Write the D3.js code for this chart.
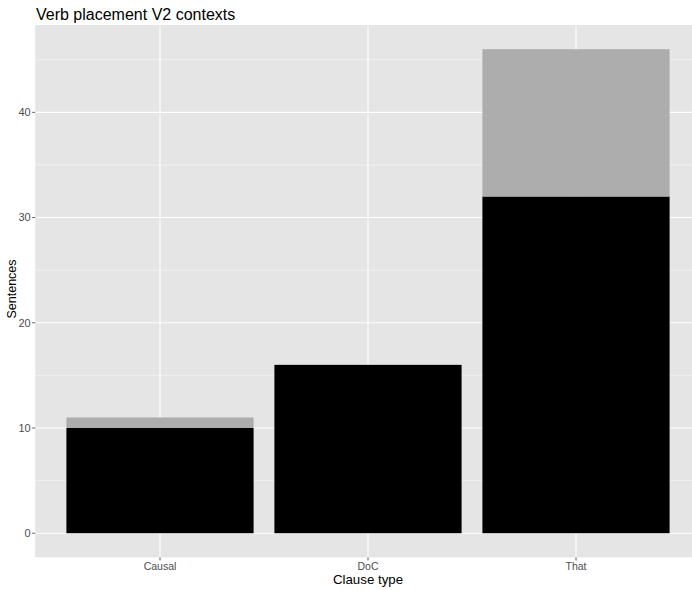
<!DOCTYPE html>
<html><head><meta charset="utf-8">
<script src="https://cdn.jsdelivr.net/npm/d3@7"></script>
<style>body{margin:0;background:#fff}svg{display:block}</style>
</head><body><div id="c"></div>
<script>
const categories = ["Causal", "DoC", "That"];
const seriesKeys = ["V2", "nonV2"];
const valuesV2 = [10, 16, 32];
const valuesOther = [1, 0, 14];
const yTicks = [0, 10, 20, 30, 40];
const yMinor = [5, 15, 25, 35, 45];
const title = "Verb placement V2 contexts";
const xTitle = "Clause type";
const yTitle = "Sentences";

(function () {
const W = 692, H = 590;
const pL = 35.2, pT = 25, pB = 557.4, pR = 700.8;
const svg = d3.select("#c").append("svg").attr("width", W).attr("height", H);

const maxTotal = d3.max(categories, (c, i) => valuesV2[i] + valuesOther[i]);
const pad = maxTotal * 0.05;
const y = d3.scaleLinear().domain([-pad, maxTotal + pad]).range([pB, pT]);
const xi = d3.scaleLinear().domain([0.4, categories.length + 0.6]).range([pL, pR]);
const bw = (xi(2) - xi(1)) * 0.9;
const font = "Liberation Sans, Arial, sans-serif";

svg.append("rect").attr("x", pL).attr("y", pT).attr("width", pR - pL).attr("height", pB - pT).attr("fill", "#e5e5e5");
const g = svg.append("g");
yMinor.forEach(v => g.append("line").attr("x1", pL).attr("x2", pR).attr("y1", y(v)).attr("y2", y(v)).attr("stroke", "#f2f2f2").attr("stroke-width", 0.8));
yTicks.forEach(v => g.append("line").attr("x1", pL).attr("x2", pR).attr("y1", y(v)).attr("y2", y(v)).attr("stroke", "#fff").attr("stroke-width", 1.1));
categories.forEach((c, i) => g.append("line").attr("x1", xi(i + 1)).attr("x2", xi(i + 1)).attr("y1", pT).attr("y2", pB).attr("stroke", "#fff").attr("stroke-width", 1.1));

const stackData = categories.map((c, i) => ({cat: c, idx: i, V2: valuesV2[i], nonV2: valuesOther[i]}));
const stack = d3.stack().keys(seriesKeys)(stackData);
const colors = {V2: "#000000", nonV2: "#adadad"};
stack.forEach(s => {
  svg.append("g").selectAll("rect").data(s.filter(d => d[1] > d[0])).join("rect")
    .attr("x", d => xi(d.data.idx + 1) - bw / 2)
    .attr("width", bw)
    .attr("y", d => y(d[1]))
    .attr("height", d => y(d[0]) - y(d[1]))
    .attr("fill", colors[s.key]);
});

const ya = svg.append("g");
yTicks.forEach(v => {
  ya.append("line").attr("x1", pL - 3).attr("x2", pL).attr("y1", y(v)).attr("y2", y(v)).attr("stroke", "#333").attr("stroke-width", 0.8);
  ya.append("text").attr("x", pL - 4.5).attr("y", y(v)).attr("dy", "0.35em").attr("text-anchor", "end")
    .attr("font-family", font).attr("font-size", 11).attr("fill", "#4d4d4d").text(v);
});
const xa = svg.append("g");
categories.forEach((c, i) => {
  xa.append("line").attr("x1", xi(i + 1)).attr("x2", xi(i + 1)).attr("y1", pB).attr("y2", pB + 3).attr("stroke", "#333").attr("stroke-width", 0.8);
  xa.append("text").attr("x", xi(i + 1)).attr("y", pB + 13).attr("text-anchor", "middle")
    .attr("font-family", font).attr("font-size", 10.5).attr("fill", "#4d4d4d").text(c);
});

svg.append("text").attr("x", 36).attr("y", 20).attr("font-family", font)
  .attr("font-size", 16).attr("fill", "#000").text(title);
svg.append("text").attr("x", (pL + pR) / 2).attr("y", 584).attr("text-anchor", "middle").attr("font-family", font)
  .attr("font-size", 13.3).attr("fill", "#000").text(xTitle);
svg.append("text").attr("transform", `translate(15.5,289) rotate(-90)`).attr("text-anchor", "middle")
  .attr("font-family", font).attr("font-size", 12.5).attr("fill", "#000").text(yTitle);
})();
</script></body></html>
